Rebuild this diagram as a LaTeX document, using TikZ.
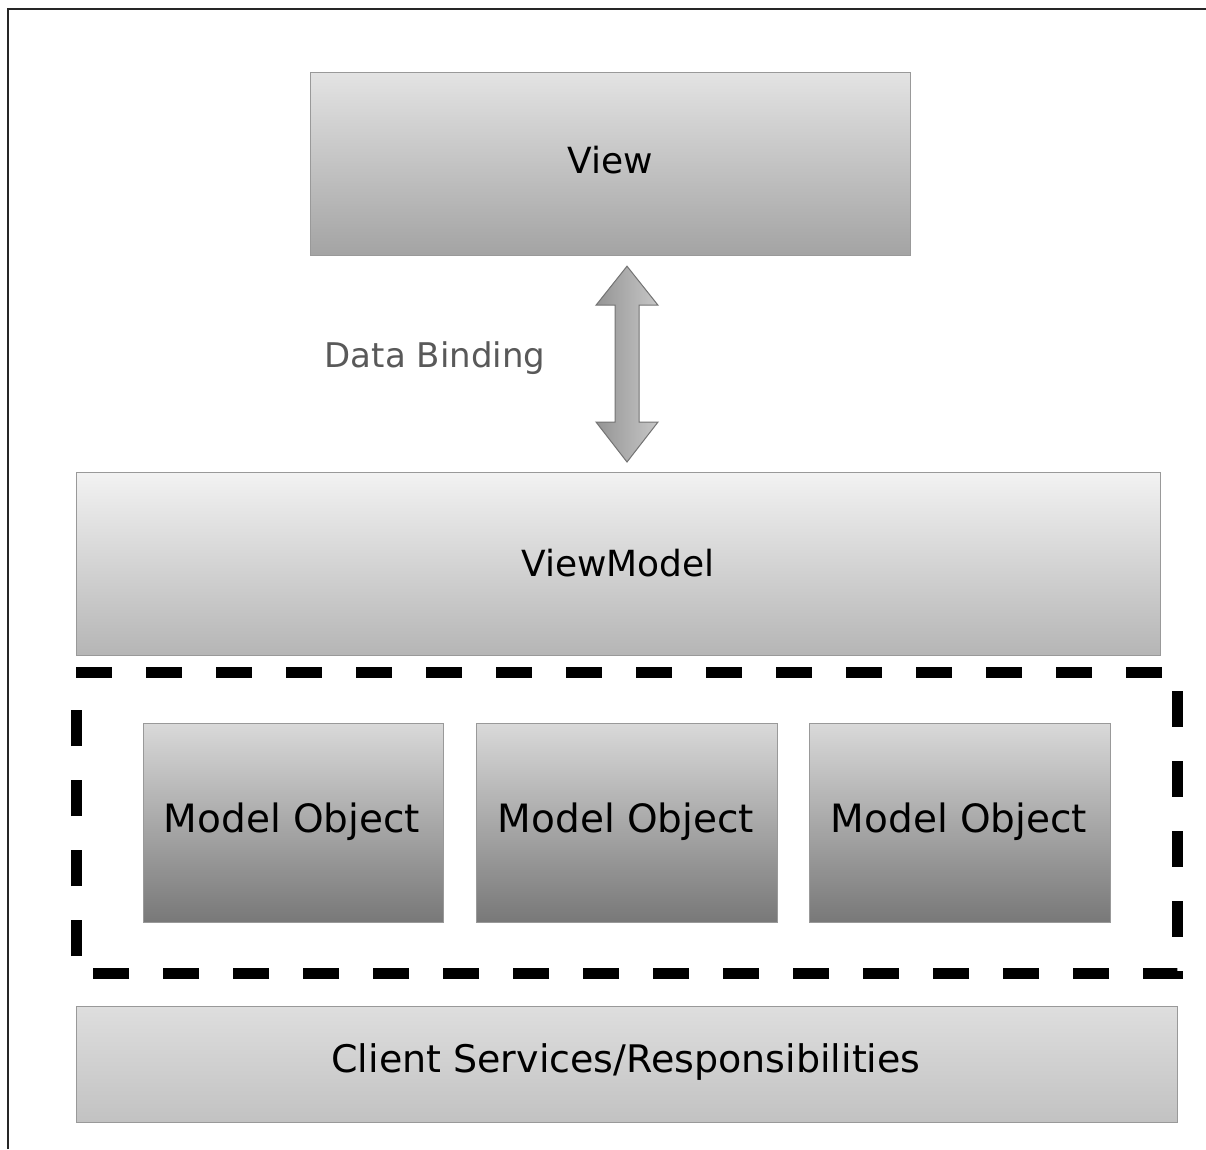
\documentclass[tikz,border=0pt]{standalone}
\usepackage{fontspec}
\setmainfont{DejaVu Sans}
\usetikzlibrary{calc}
\tikzset{
  box/.style={draw=black!40, line width=1.2pt, inner sep=0pt, anchor=north west, text=black},
  viewbox/.style={box, top color=black!11, bottom color=black!36},
  vmbox/.style={box, top color=black!5, bottom color=black!29},
  modelbox/.style={box, top color=black!15, bottom color=black!53},
  clientbox/.style={box, top color=black!13, bottom color=black!24},
  bigtext/.style={font=\fontsize{36}{40}\selectfont},
  modeltext/.style={font=\fontsize{39}{43}\selectfont},
  clienttext/.style={font=\fontsize{38}{42}\selectfont},
  dashframe/.style={draw=black, line width=11pt, dash pattern=on 36pt off 34pt},
  bindarrow/.style={draw=black!55, line width=1pt, left color=black!42, right color=black!22},
}
\begin{document}
\begin{tikzpicture}[x=1pt, y=-1pt]
\useasboundingbox (0,0) rectangle (1206,1149);
\fill[white] (0,0) rectangle (1206,1149);
% outer frame
\draw[black!85, line width=2pt] (8,1149) -- (8,9) -- (1206,9);

% boxes
\node[viewbox, minimum width=600, minimum height=183] (view) at (310,72) {};
\node[bigtext] (viewlabel) at (610,160) {View};

\node[vmbox, minimum width=1084, minimum height=183] (vm) at (76,472) {};
\node[bigtext] (vmlabel) at (618,563) {ViewModel};

\node[modelbox, minimum width=300, minimum height=199] (m1) at (143,723) {};
\node[modelbox, minimum width=301, minimum height=199] (m2) at (476,723) {};
\node[modelbox, minimum width=301, minimum height=199] (m3) at (809,723) {};
\node[modeltext] (m1label) at (292,822) {Model Object};
\node[modeltext] (m2label) at (626,822) {Model Object};
\node[modeltext] (m3label) at (959,822) {Model Object};

\node[clientbox, minimum width=1101, minimum height=116] (client) at (76,1006) {};
\node[clienttext] (clientlabel) at (626,1062) {Client Services/Responsibilities};

% dashed group frame
\coordinate (dtl) at (76,672);
\coordinate (dtr) at (1177,672);
\coordinate (dbr) at (1177,973);
\coordinate (dbl) at (76,973);
\coordinate (dend) at (76,677);
\draw[dashframe] (dtl) -- (dtr) -- (dbr) -- (dbl) -- (dend);

% data binding double arrow between view and viewmodel
\coordinate (atop) at ($(view.south west)+(317,10)$);
\coordinate (abot) at ($(vm.north west)+(551,-10)$);
\path[bindarrow] (atop) -- ++(31,39) -- ++(-19,0) |- ($(abot)+(12,-40)$) -- ++(19,0) -- (abot)
  -- ++(-31,-40) -- ++(19,0) |- ($(atop)+(-12,39)$) -- ++(-19,0) -- cycle;

\node[font=\fontsize{34}{38}\selectfont, text=black!65] (binding) at (435,358) {Data Binding};
\end{tikzpicture}
\end{document}
